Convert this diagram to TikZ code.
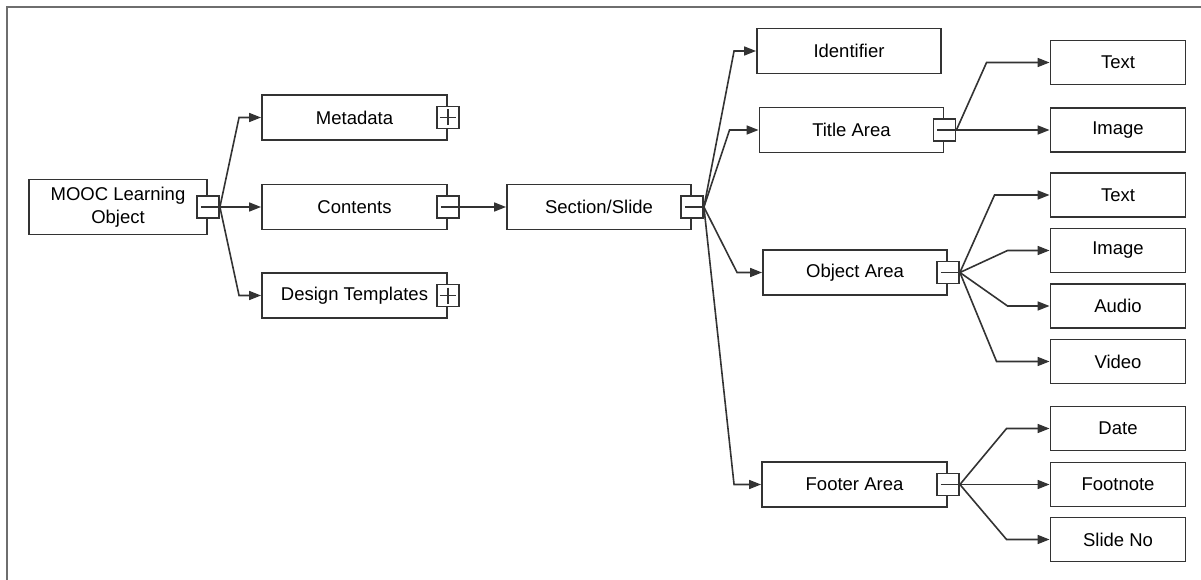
\documentclass[tikz,border=0pt]{standalone}
\usepackage{fontspec}
\setmainfont{Liberation Sans}
\usetikzlibrary{arrows.meta}
\definecolor{edge}{HTML}{333333}
\definecolor{frame}{HTML}{6E6E6E}
\tikzset{
  box/.style={draw=edge, line width=1.9pt, fill=white, inner sep=0pt,
    minimum width=184pt, minimum height=45pt, align=center,
    font=\fontsize{18.5}{23}\selectfont},
  leaf/.style={box, minimum width=135pt, minimum height=44pt},
  togglebox/.style={draw=edge, line width=1.9pt, fill=white, inner sep=0pt,
    minimum size=22pt},
  minusbox/.style={togglebox, path picture={
    \draw[edge, line width=1.6pt] ([xshift=4pt]path picture bounding box.west)
      -- (path picture bounding box.east);}},
  plusbox/.style={togglebox, path picture={
    \draw[edge, line width=1.6pt] ([xshift=3pt]path picture bounding box.west)
      -- ([xshift=-3pt]path picture bounding box.east);
    \draw[edge, line width=1.6pt] ([yshift=-3pt]path picture bounding box.north)
      -- ([yshift=3pt]path picture bounding box.south);}},
  conn/.style={draw=edge, line width=1.6pt,
    -{Triangle[length=12pt,width=9pt]}},
}
\begin{document}
\begin{tikzpicture}[x=1pt, y=-1pt]
\useasboundingbox (0,0) rectangle (1201,580);
% outer frame (only top and left edges fall inside the page)
\draw[frame, line width=2.2pt] (1210,7) -- (7,7) -- (7,590);

% root and first level
\node[box, minimum width=178pt, minimum height=55pt] (mooc) at (118,207) {MOOC Learning\\Object};
\node[box, minimum width=185pt] (meta) at (354.5,117.5) {Metadata};
\node[box, minimum width=185pt] (cont) at (354.5,207) {Contents};
\node[box, minimum width=185pt] (design) at (354.5,295.5) {Design Templates};
\node[box] (sect) at (599,207) {Section/Slide};

% areas of a slide
\node[box] (ident) at (849,51) {Identifier};
\node[box] (title) at (851.5,130) {Title Area};
\node[box] (obj) at (855,272.5) {Object Area};
\node[box, minimum width=185pt] (foot) at (854.5,484.5) {Footer Area};

% leaves
\node[leaf] (t1) at (1118,62.5) {Text};
\node[leaf] (i1) at (1118,130) {Image};
\node[leaf] (t2) at (1118,195) {Text};
\node[leaf] (i2) at (1118,250.5) {Image};
\node[leaf] (aud) at (1118,306) {Audio};
\node[leaf] (vid) at (1118,361.5) {Video};
\node[leaf] (date) at (1118,428.5) {Date};
\node[leaf] (fnote) at (1118,484.5) {Footnote};
\node[leaf] (slno) at (1118,539.5) {Slide No};

% expand / collapse toggles
\node[minusbox] (moocx) at (mooc.east) {};
\node[plusbox] (metax) at (meta.east) {};
\node[minusbox] (contx) at (cont.east) {};
\node[plusbox] (designx) at (design.east) {};
\node[minusbox] (sectx) at (sect.east) {};
\node[minusbox] (titlex) at (title.east) {};
\node[minusbox] (objx) at (obj.east) {};
\node[minusbox] (footx) at (foot.east) {};

% connectors
\draw[conn] (moocx.east) -- ([xshift=-22pt]meta.west) -- (meta.west);
\draw[conn] (moocx.east) -- (cont.west);
\draw[conn] (moocx.east) -- ([xshift=-22pt]design.west) -- (design.west);
\draw[conn] (contx.east) -- (sect.west);

\draw[conn] (sectx.east) -- ([xshift=-22pt]ident.west) -- (ident.west);
\draw[conn] (sectx.east) -- ([xshift=-29pt]title.west) -- (title.west);
\draw[conn] (sectx.east) -- ([xshift=-25pt]obj.west) -- (obj.west);
\draw[conn] (sectx.east) -- ([xshift=-27pt]foot.west) -- (foot.west);

\draw[conn] (titlex.east) -- ([xshift=-63pt]t1.west) -- (t1.west);
\draw[conn] (titlex.east) -- (i1.west);

\draw[conn] (objx.east) -- ([xshift=-55pt]t2.west) -- (t2.west);
\draw[conn] (objx.east) -- ([xshift=-42pt]i2.west) -- (i2.west);
\draw[conn] (objx.east) -- ([xshift=-42pt]aud.west) -- (aud.west);
\draw[conn] (objx.east) -- ([xshift=-53pt]vid.west) -- (vid.west);

\draw[conn] (footx.east) -- ([xshift=-43pt]date.west) -- (date.west);
\draw[conn] (footx.east) -- (fnote.west);
\draw[conn] (footx.east) -- ([xshift=-43pt]slno.west) -- (slno.west);
\end{tikzpicture}
\end{document}
